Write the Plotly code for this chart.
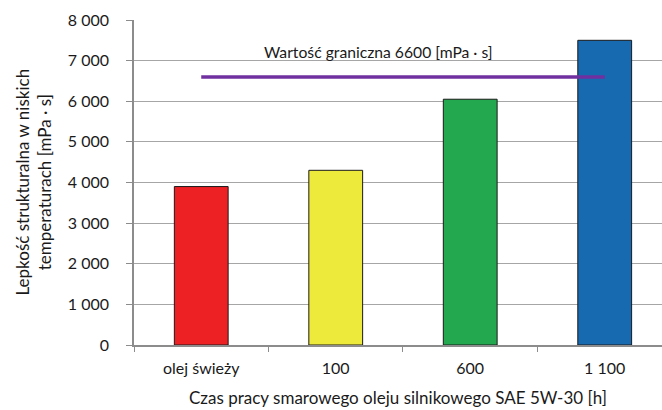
import plotly.graph_objects as go

# Data
categories = ["olej świeży", "100", "600", "1 100"]
viscosity = [3900, 4300, 6050, 7500]
bar_colors = ["#ED2124", "#EEEA3C", "#23A84F", "#1769B0"]
limit_value = 6600
limit_label = "Wartość graniczna 6600 [mPa · s]"
y_ticks = [0, 1000, 2000, 3000, 4000, 5000, 6000, 7000, 8000]
y_tick_text = ["0", "1 000", "2 000", "3 000", "4 000", "5 000", "6 000", "7 000", "8 000"]

FONT = "Lato, 'Open Sans', sans-serif"
TEXT = "#1a1a1a"

fig = go.Figure()

fig.add_trace(go.Bar(
    x=categories,
    y=viscosity,
    width=0.4,
    marker=dict(color=bar_colors, line=dict(color="#1a1a1a", width=1)),
    showlegend=False,
))

# Limit line from the first to the last category
fig.add_trace(go.Scatter(
    x=[categories[0], categories[-1]],
    y=[limit_value, limit_value],
    mode="lines",
    line=dict(color="#7030A0", width=3.5),
    showlegend=False,
))

fig.add_annotation(
    x=1.32, y=7220, xref="x", yref="y",
    text=limit_label, showarrow=False,
    font=dict(family=FONT, size=15.7, color=TEXT),
)

# Axis titles
fig.add_annotation(
    x=0, y=0.5, xref="paper", yref="paper",
    xanchor="center", yanchor="middle", xshift=-101,
    text="Lepkość strukturalna w niskich<br>temperaturach [mPa · s]",
    textangle=-90, showarrow=False,
    font=dict(family=FONT, size=17, color=TEXT),
)
fig.add_annotation(
    x=0.5, y=0, xref="paper", yref="paper",
    xanchor="center", yanchor="middle", yshift=-52,
    text="Czas pracy smarowego oleju silnikowego SAE 5W-30 [h]",
    showarrow=False,
    font=dict(family=FONT, size=17, color=TEXT),
)

fig.update_layout(
    width=662, height=410,
    margin=dict(l=134, r=0, t=20, b=65),
    paper_bgcolor="white",
    plot_bgcolor="white",
    font=dict(family=FONT, size=16, color=TEXT),
    bargap=0.6,
)

fig.update_xaxes(
    type="category",
    range=[-0.5, 3.426],
    showline=True, linecolor="#8c8c8c", linewidth=1.5,
    ticks="outside", tickson="boundaries", ticklen=5, tickcolor="#8c8c8c",
    ticklabelstandoff=8,
    showgrid=False,
    tickfont=dict(family=FONT, size=16, color=TEXT),
)

fig.update_yaxes(
    range=[0, 8000],
    tickvals=y_ticks, ticktext=y_tick_text,
    showline=True, linecolor="#8c8c8c", linewidth=1.5,
    ticks="outside", ticklen=6, tickcolor="#8c8c8c",
    ticklabelstandoff=14,
    showgrid=True, gridcolor="#a6a6a6", gridwidth=1.3,
    zeroline=False,
    tickfont=dict(family=FONT, size=16, color=TEXT),
)

fig.write_html("out.html")
